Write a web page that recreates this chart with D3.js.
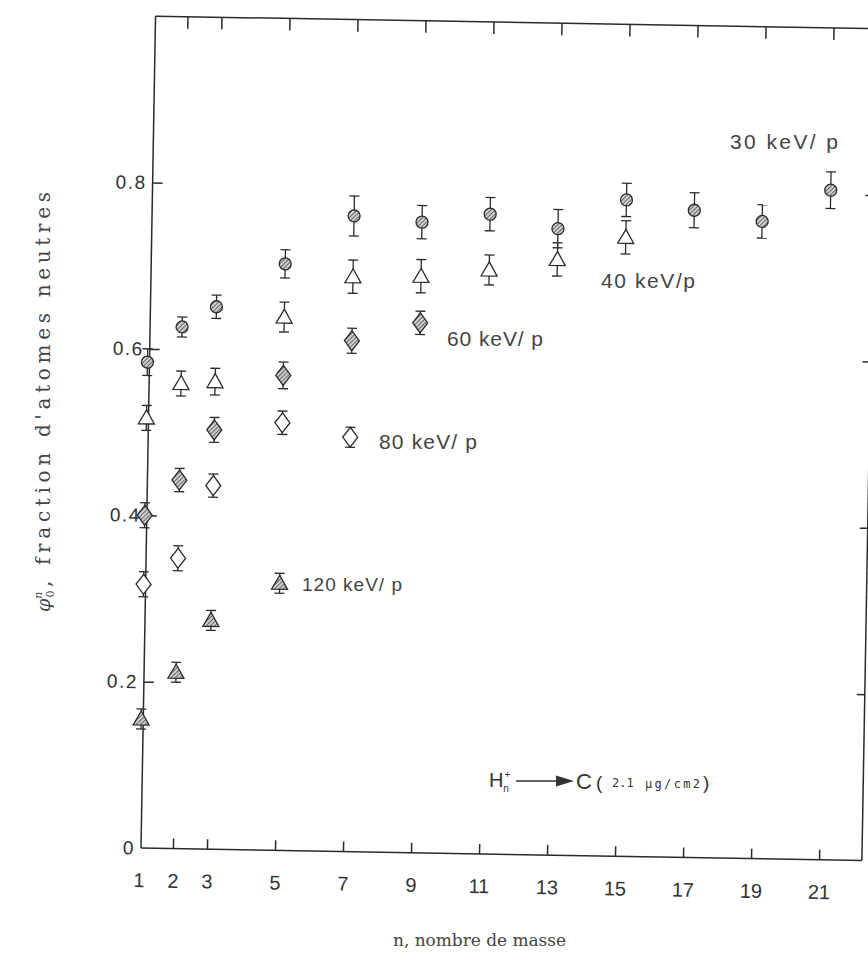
<!DOCTYPE html>
<html><head><meta charset="utf-8">
<script src="https://cdn.jsdelivr.net/npm/d3@7"></script>
<style>body{margin:0;background:#fff} svg{display:block}</style>
</head><body>
<svg id="c" width="868" height="972"></svg>
<script>
// ---- data ----
const n30 = [1,2,3,5,7,9,11,13,15,17,19,21];
const v30 = [0.584,0.627,0.652,0.705,0.764,0.758,0.769,0.753,0.789,0.778,0.766,0.805];
const e30 = [0.016,0.012,0.014,0.017,0.024,0.020,0.020,0.023,0.020,0.021,0.020,0.022];
const n40 = [1,2,3,5,7,9,11,13,15];
const v40 = [0.517,0.559,0.562,0.641,0.691,0.693,0.702,0.716,0.744];
const e40 = [0.015,0.015,0.016,0.018,0.020,0.020,0.018,0.020,0.020];
const n60 = [1,2,3,5,7,9];
const v60 = [0.400,0.443,0.504,0.571,0.614,0.637];
const e60 = [0.015,0.014,0.015,0.016,0.015,0.014];
const n80 = [1,2,3,5,7];
const v80 = [0.317,0.349,0.437,0.514,0.498];
const e80 = [0.015,0.015,0.014,0.014,0.012];
const n120 = [1,2,3,5];
const v120 = [0.155,0.212,0.275,0.321];
const e120 = [0.012,0.012,0.012,0.012];
const seriesLabels = ["30 keV/ p","40 keV/p","60 keV/ p","80 keV/ p","120 keV/ p"];
const xTickValues = [1,2,3,5,7,9,11,13,15,17,19,21];
const yTickValues = [0,0.2,0.4,0.6,0.8];
const yTickLabels = ["0","0.2","0.4","0.6","0.8"];
const xTitle = "n, nombre de masse";
const yTitleRest = ", fraction d'atomes neutres";

// ---- layout ----
const svg = d3.select("#c");
const defs = svg.append("defs");
const pat = defs.append("pattern").attr("id","hatch").attr("width",3).attr("height",3)
  .attr("patternUnits","userSpaceOnUse").attr("patternTransform","rotate(45)");
pat.append("rect").attr("width",3).attr("height",3).attr("fill","#cfcfcf");
pat.append("line").attr("x1",0.5).attr("y1",0).attr("x2",0.5).attr("y2",3).attr("stroke","#666").attr("stroke-width",1);

const xMin = 1.06, xMax = 22.26;
const x = d3.scaleLinear().domain([xMin, xMax]).range([141, 862]);
const y = d3.scaleLinear().domain([0, 1]).range([848, 16]);
const ink = "#2a2a2a";

const g = svg.append("g").attr("transform", `rotate(1, ${x(xMin)}, ${y(0)})`);

// frame
const frame = g.append("g").attr("stroke", ink).attr("stroke-width", 1.5).attr("fill","none");
frame.append("line").attr("x1",x(xMin)).attr("x2",x(xMax)).attr("y1",y(0)).attr("y2",y(0));
frame.append("line").attr("x1",x(xMin)).attr("x2",x(xMax)).attr("y1",y(1)).attr("y2",y(1));
frame.append("line").attr("x1",x(xMin)).attr("x2",x(xMin)).attr("y1",y(0)).attr("y2",y(1));
frame.append("line").attr("x1",x(xMax)).attr("x2",x(xMax)).attr("y1",y(0)).attr("y2",y(0.52));

// axes
const fontSans = "'Liberation Sans', Arial, sans-serif";
const axBottom = g.append("g").attr("transform",`translate(0,${y(0)})`)
  .call(d3.axisBottom(x).tickValues(xTickValues).tickSize(-10).tickSizeOuter(0).tickPadding(25).tickFormat(d3.format("d")));
axBottom.select(".domain").remove();
axBottom.selectAll(".tick").filter(d => d === 1).select("line").remove();
const axTop = g.append("g").attr("transform",`translate(0,${y(1)})`)
  .call(d3.axisTop(x).tickValues(xTickValues.filter(d=>d>1)).tickSize(-12).tickSizeOuter(0).tickFormat(""));
axTop.select(".domain").remove();
const axLeft = g.append("g").attr("transform",`translate(${x(xMin)},0)`)
  .call(d3.axisLeft(y).tickValues(yTickValues).tickSize(-10).tickSizeOuter(0).tickPadding(6)
    .tickFormat((d,i) => yTickLabels[i]));
axLeft.select(".domain").remove();
axLeft.selectAll(".tick").filter(d => d === 0).select("line").remove();
const axRight = g.append("g").attr("transform",`translate(${x(xMax)},0)`)
  .call(d3.axisRight(y).tickValues(yTickValues.filter(d=>d>0)).tickSize(-8).tickSizeOuter(0).tickFormat(""));
axRight.select(".domain").remove();
g.selectAll(".tick line").attr("stroke", ink).attr("stroke-width", 1.5);
g.selectAll(".tick text").attr("font-family", fontSans).attr("font-size", 20).attr("fill", "#333");
axLeft.selectAll(".tick text").attr("font-size", 19).attr("letter-spacing", 1.5);

// markers
const series = [
  {n:n30, v:v30, e:e30, shape:"circle", fill:"url(#hatch)"},
  {n:n40, v:v40, e:e40, shape:"triangle", fill:"#fff"},
  {n:n60, v:v60, e:e60, shape:"diamond", fill:"url(#hatch)"},
  {n:n80, v:v80, e:e80, shape:"diamond", fill:"#fff"},
  {n:n120, v:v120, e:e120, shape:"triangle", fill:"url(#hatch)"}
];
function shapePath(shape){
  if (shape === "triangle") return "M0,-8 L8,6 L-8,6 Z";
  if (shape === "diamond") return "M0,-10 L7.5,0 L0,10 L-7.5,0 Z";
  return null;
}
series.forEach(s => {
  const pts = s.n.map((n,i)=>({n, v:s.v[i], e:s.e[i]}));
  const sg = g.append("g");
  const eb = sg.selectAll("g.eb").data(pts).enter().append("g")
    .attr("stroke", ink).attr("stroke-width", 1.3);
  eb.append("line").attr("x1",d=>x(d.n)).attr("x2",d=>x(d.n)).attr("y1",d=>y(d.v+d.e)).attr("y2",d=>y(d.v-d.e));
  eb.append("line").attr("x1",d=>x(d.n)-5).attr("x2",d=>x(d.n)+5).attr("y1",d=>y(d.v+d.e)).attr("y2",d=>y(d.v+d.e));
  eb.append("line").attr("x1",d=>x(d.n)-5).attr("x2",d=>x(d.n)+5).attr("y1",d=>y(d.v-d.e)).attr("y2",d=>y(d.v-d.e));
  if (s.shape === "circle") {
    sg.selectAll("circle").data(pts).enter().append("circle")
      .attr("cx",d=>x(d.n)).attr("cy",d=>y(d.v)).attr("r",6)
      .attr("fill",s.fill).attr("stroke",ink).attr("stroke-width",1.3);
  } else {
    sg.selectAll("path.m").data(pts).enter().append("path")
      .attr("transform",d=>`translate(${x(d.n)},${y(d.v)})`).attr("d",shapePath(s.shape))
      .attr("fill",s.fill).attr("stroke",ink).attr("stroke-width",1.3);
  }
});

// series labels (picture coordinates)
const labelPos = [[730,149,108],[601,288,94],[447,346,96],[379,449,98],[302,591,100]];
seriesLabels.forEach((t,i)=>{
  svg.append("text").attr("x",labelPos[i][0]).attr("y",labelPos[i][1])
    .attr("textLength",labelPos[i][2]).attr("lengthAdjust","spacing")
    .attr("font-family",fontSans).attr("font-size",i === 4 ? 19 : 21).attr("fill","#444").text(t);
});

// reaction annotation
const ann = svg.append("g").attr("fill","#333");
const hText = ann.append("text").attr("x",489).attr("y",787).attr("font-family",fontSans).attr("font-size",20);
hText.append("tspan").text("H");
hText.append("tspan").attr("font-size",10).attr("dx",1).attr("dy",-9).text("+");
hText.append("tspan").attr("font-size",10).attr("dx",-7).attr("dy",14).text("n");
ann.append("line").attr("x1",516).attr("x2",562).attr("y1",781).attr("y2",781).attr("stroke","#333").attr("stroke-width",1.4);
ann.append("path").attr("d","M556,775.5 L574,781 L556,786.5 Z");
ann.append("text").attr("x",576).attr("y",789).attr("font-family",fontSans).attr("font-size",22).text("C");
ann.append("text").attr("x",596).attr("y",789).attr("font-family",fontSans).attr("font-size",19).text("(");
ann.append("text").attr("x",612).attr("y",787).attr("font-family","'DejaVu Sans Mono', monospace").attr("font-size",12).text("2.1");
ann.append("text").attr("x",645).attr("y",788).attr("textLength",55).attr("lengthAdjust","spacing")
  .attr("font-family","'DejaVu Sans Mono', monospace").attr("font-size",12).text("μg/cm2");
ann.append("text").attr("x",703).attr("y",789).attr("font-family",fontSans).attr("font-size",19).text(")");

// axis titles
const fontSerif = "'DejaVu Serif', 'Liberation Serif', serif";
svg.append("text").attr("x",393).attr("y",946).attr("textLength",173).attr("lengthAdjust","spacing")
  .attr("font-family",fontSerif).attr("font-size",17).attr("fill","#444").text(xTitle);
const yt = svg.append("g").attr("transform","translate(50,0) rotate(-90)").attr("font-family",fontSerif).attr("fill","#444");
const phi = yt.append("text").attr("x",-612).attr("y",0).attr("font-size",19).attr("font-style","italic");
phi.append("tspan").text("φ");
phi.append("tspan").attr("font-size",11).attr("dy",-8).attr("font-style","italic").text("n");
phi.append("tspan").attr("font-size",11).attr("dx",-6).attr("dy",12).attr("font-style","normal").text("0");
yt.append("text").attr("x",-587).attr("y",0).attr("font-size",20).attr("textLength",395)
  .attr("lengthAdjust","spacing").text(yTitleRest);
</script>
</body></html>
